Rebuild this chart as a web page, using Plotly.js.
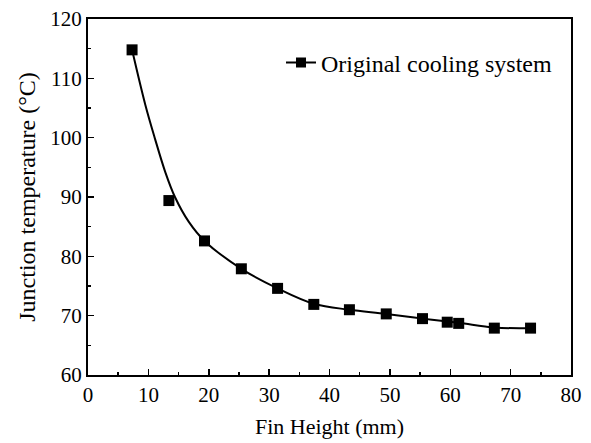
<!DOCTYPE html>
<html>
<head>
<meta charset="utf-8">
<script src="https://cdn.plot.ly/plotly-3.0.1.min.js"></script>
<style>html,body{margin:0;padding:0;background:#fff;}#chart{width:591px;height:443px;}</style>
</head>
<body>
<div id="chart"></div>
<script>
// Measured points
var finHeight = [7.3, 13.4, 19.3, 25.4, 31.4, 37.4, 43.3, 49.4, 55.4, 59.5, 61.4, 67.3, 73.3];
var junctionTemp = [114.8, 89.4, 82.6, 77.9, 74.6, 71.9, 71.0, 70.3, 69.5, 68.9, 68.7, 67.9, 67.9];
// Fitted curve
var curveX = [7.3, 9.5, 11.1, 12.8, 14.4, 16.7, 19.3, 25.4, 31.4, 37.4, 43.3, 49.4, 55.4, 61.4, 67.3, 73.3];
var curveY = [114.8, 105.5, 99.8, 94.2, 90.0, 85.8, 82.6, 77.9, 74.6, 72.0, 71.0, 70.3, 69.5, 68.8, 68.0, 67.9];
var seriesName = 'Original cooling system';
var xTicks = [0, 10, 20, 30, 40, 50, 60, 70, 80];
var yTicks = [60, 70, 80, 90, 100, 110, 120];

var font = 'Liberation Serif, Times New Roman, serif';
var traces = [
  {x: curveX, y: curveY, mode: 'lines', line: {color: '#000', width: 2, shape: 'spline', smoothing: 1}, showlegend: false, hoverinfo: 'skip'},
  {x: finHeight, y: junctionTemp, mode: 'markers', marker: {symbol: 'square', size: 11, color: '#000'}, showlegend: false},
  {x: [null], y: [null], mode: 'lines+markers', name: seriesName, line: {color: '#000', width: 2}, marker: {symbol: 'square', size: 10, color: '#000'}}
];
var axisCommon = {
  showline: true, linecolor: '#000', linewidth: 2, mirror: true,
  ticks: 'inside', ticklen: 6, tickwidth: 1.5, tickcolor: '#000',
  showgrid: false, zeroline: false,
  tickfont: {family: font, size: 21, color: '#000'},
  minor: {ticks: 'inside', ticklen: 3, tickwidth: 1.5, tickcolor: '#000', dtick: 5}
};
var layout = {
  width: 591, height: 443,
  margin: {l: 88, r: 20, t: 19, b: 68},
  paper_bgcolor: '#fff', plot_bgcolor: '#fff',
  font: {family: font, color: '#000'},
  xaxis: Object.assign({}, axisCommon, {
    range: [0, 80], tickvals: xTicks, ticktext: xTicks.map(String),
    title: {text: 'Fin Height (mm)', font: {family: font, size: 22, color: '#000'}, standoff: 12}
  }),
  yaxis: Object.assign({}, axisCommon, {
    range: [60, 120], tickvals: yTicks, ticktext: yTicks.map(String),
    title: {text: 'Junction temperature (°C)', font: {family: font, size: 24, color: '#000'}, standoff: 8}
  }),
  showlegend: true,
  legend: {x: 0.3996, y: 0.94, xanchor: 'left', yanchor: 'top', bgcolor: 'rgba(0,0,0,0)', font: {family: font, size: 24, color: '#000'}}
};
Plotly.newPlot('chart', traces, layout, {displayModeBar: false, staticPlot: true});
</script>
</body>
</html>
